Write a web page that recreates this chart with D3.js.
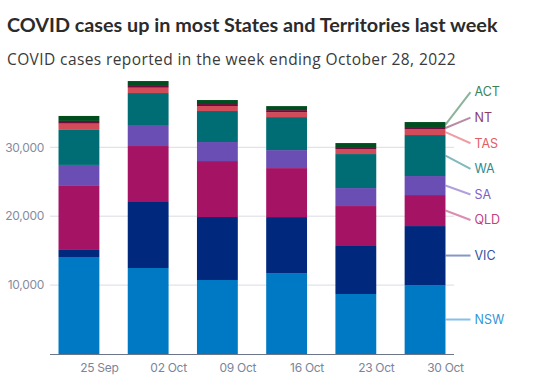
<!DOCTYPE html>
<html>
<head>
<meta charset="utf-8">
<script src="https://cdn.jsdelivr.net/npm/d3@7"></script>
<style>
  html, body { margin: 0; padding: 0; background: #fff; }
  svg { display: block; }
</style>
</head>
<body>
<svg id="chart" width="552" height="381"></svg>
<script>
const weeks = ["25 Sep", "02 Oct", "09 Oct", "16 Oct", "23 Oct", "30 Oct"];
const states = ["NSW", "VIC", "QLD", "SA", "WA", "TAS", "NT", "ACT"];
const NSW = [14080, 12480, 10740, 11750, 8710, 10010];
const VIC = [1020, 9580, 9140, 8125, 6965, 8560];
const QLD = [9290, 8125, 8125, 7110, 5800, 4500];
const SA  = [3050, 3050, 2760, 2610, 2610, 2760];
const WA  = [5080, 4640, 4500, 4790, 4935, 5950];
const TAS = [915, 770, 725, 725, 725, 870];
const NT  = [390, 390, 290, 290, 290, 290];
const ACT = [725, 580, 580, 580, 580, 725];
const yTicks = [10000, 20000, 30000];
const colors = ["#0079c4", "#00287d", "#a51464", "#6a4eb3", "#006d75", "#d24b58", "#6e0a3c", "#004e1f"];
const labelColors = ["#3596d8", "#35519e", "#c2417f", "#7c62c8", "#2d8b8f", "#e35c67", "#8b3c66", "#3a8257"];

const seriesValues = {NSW, VIC, QLD, SA, WA, TAS, NT, ACT};
const table = weeks.map((w, i) => {
  const row = {week: w};
  states.forEach(s => row[s] = seriesValues[s][i]);
  return row;
});

const svg = d3.select("#chart");

svg.append("text").attr("x", 7).attr("y", 32)
  .attr("font-family", "Lato, sans-serif").attr("font-weight", 700)
  .attr("font-size", 19.8).attr("fill", "#2b2b2b")
  .text("COVID cases up in most States and Territories last week");

svg.append("text").attr("x", 7).attr("y", 65)
  .attr("font-family", "'Open Sans', sans-serif")
  .attr("font-size", 15.5).attr("fill", "#3a3a3a").attr("letter-spacing", "0.4")
  .text("COVID cases reported in the week ending October 28, 2022");

const x = d3.scaleBand().domain(weeks).range([50, 454]).paddingInner(0.41).paddingOuter(0.123);
const y = d3.scaleLinear().domain([0, 10000]).range([354, 285.1]);

// gridlines
svg.append("g").selectAll("line").data(yTicks).join("line")
  .attr("x1", 50).attr("x2", 454)
  .attr("y1", d => y(d)).attr("y2", d => y(d))
  .attr("stroke", "#dadce3").attr("stroke-width", 1);

// y labels
svg.append("g").selectAll("text").data(yTicks).join("text")
  .attr("x", 44).attr("y", d => y(d)).attr("dy", "0.35em")
  .attr("text-anchor", "end")
  .attr("font-family", "Inter, sans-serif").attr("font-size", 12)
  .attr("fill", "#858ca0").attr("letter-spacing", "-0.3")
  .text(d3.format(","));

const stack = d3.stack().keys(states)(table);

svg.append("g").selectAll("g").data(stack).join("g")
  .attr("fill", (d, i) => colors[i])
  .selectAll("rect").data(d => d).join("rect")
  .attr("x", d => x(d.data.week))
  .attr("width", x.bandwidth())
  .attr("y", d => y(d[1]))
  .attr("height", d => y(d[0]) - y(d[1]));

// x axis line
svg.append("line").attr("x1", 50).attr("x2", 454).attr("y1", 354.5).attr("y2", 354.5)
  .attr("stroke", "#6c7488").attr("stroke-width", 1);

// x labels (centered at the week-ending edge of each bar)
svg.append("g").selectAll("text").data(weeks).join("text")
  .attr("x", d => x(d) + x.bandwidth())
  .attr("y", 372)
  .attr("text-anchor", "middle")
  .attr("font-family", "Inter, sans-serif").attr("font-size", 12)
  .attr("fill", "#7c8498").attr("letter-spacing", "-0.3")
  .text(d => d);

// right-hand labels with leader lines from last bar
const last = weeks.length - 1;
const barRight = x(weeks[last]) + x.bandwidth();
let labels = stack.map((s, i) => ({
  name: states[i], i,
  target: y((s[last][0] + s[last][1]) / 2)
}));
// resolve overlaps by clustering around means
const gap = 25.6;
labels.sort((a, b) => a.target - b.target);
let clusters = labels.map(l => ({items: [l], pos: l.target}));
let merged = true;
while (merged) {
  merged = false;
  for (let k = 0; k < clusters.length - 1; k++) {
    const a = clusters[k], b = clusters[k + 1];
    const aBottom = a.pos + (a.items.length - 1) * gap / 2;
    const bTop = b.pos - (b.items.length - 1) * gap / 2;
    if (bTop - aBottom < gap) {
      const items = a.items.concat(b.items);
      const pos = d3.mean(items, d => d.target);
      clusters.splice(k, 2, {items, pos});
      merged = true;
      break;
    }
  }
}
clusters.forEach(c => {
  const n = c.items.length;
  c.items.forEach((l, j) => l.pos = c.pos + (j - (n - 1) / 2) * gap);
});

const lg = svg.append("g");
lg.selectAll("line").data(labels).join("line")
  .attr("x1", barRight).attr("y1", d => d.target)
  .attr("x2", barRight + 25).attr("y2", d => d.pos)
  .attr("stroke", d => labelColors[d.i]).attr("stroke-width", 2)
  .attr("stroke-opacity", 0.6);
lg.selectAll("text").data(labels).join("text")
  .attr("x", barRight + 29).attr("y", d => d.pos).attr("dy", "0.35em")
  .attr("font-family", "Inter, sans-serif").attr("font-size", 12.5)
  .attr("fill", d => labelColors[d.i])
  .text(d => d.name);
</script>
</body>
</html>
